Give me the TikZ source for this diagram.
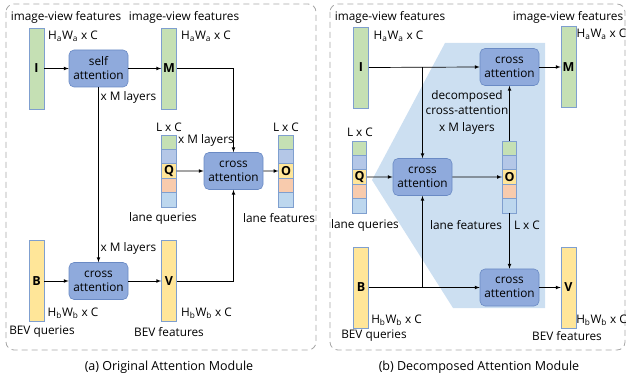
\documentclass[tikz,border=0pt]{standalone}
\usepackage{fontspec}
\setmainfont{Open Sans}
\usetikzlibrary{calc}
\definecolor{barEdge}{HTML}{7F9FCF}
\definecolor{imgGreen}{HTML}{C5E0B4}
\definecolor{bevYellow}{HTML}{FFE699}
\definecolor{attnFill}{HTML}{8FAADC}
\definecolor{attnEdge}{HTML}{6A8AC4}
\definecolor{segBlue}{HTML}{B4C7E7}
\definecolor{segOrange}{HTML}{F8CBAD}
\definecolor{segSky}{HTML}{BDD7EE}
\definecolor{shadeBlue}{HTML}{CCDFF1}
\definecolor{frameGray}{HTML}{A6A6A6}
\tikzset{
  every picture/.append style={font=\fontsize{11.8}{14}\selectfont},
  featbar/.style={draw=barEdge, line width=0.6pt, minimum width=15pt, minimum height=81pt, inner sep=0pt, font=\fontsize{12.5}{14}\selectfont\bfseries},
  attn/.style={draw=attnEdge, fill=attnFill, rounded corners=5pt, minimum width=59pt, minimum height=37pt, align=center, inner sep=0pt, line width=0.6pt},
  seg/.style={draw=barEdge, line width=0.6pt, minimum width=14.5pt, minimum height=14.4pt, inner sep=0pt},
  lbl/.style={inner sep=0pt},
  flow/.style={-latex, line width=0.7pt},
  frame/.style={draw=frameGray, dashed, dash pattern=on 6pt off 4pt, line width=0.8pt, rounded corners=8pt},
}

\begin{document}
\begin{tikzpicture}[x=1pt,y=-1pt]
    \useasboundingbox (0,0) rectangle (626,379);
    % frames and the shaded decomposed part
    \draw[frame] (6,4) rectangle (316,350);
    \draw[frame] (330,4) rectangle (625,350);
    \fill[shadeBlue] (372,180) -- (445,43) -- (545,43) -- (545,308) -- (453,308) -- cycle;

    % (a) original attention module
    \node[featbar, fill=imgGreen] (ia) at (36.5,68.5) {I};
    \node[featbar, fill=imgGreen] (ma) at (169,68.5) {M};
    \node[featbar, fill=bevYellow] (ba) at (36.5,281) {B};
    \node[featbar, fill=bevYellow] (va) at (169,281) {V};
    \node[attn] (sa) at (98.5,68.5) {self\\attention};
    \node[attn] (caa) at (233.5,171) {cross\\attention};
    \node[attn] (cab) at (98.5,281) {cross\\attention};
    \foreach \c [count=\k] in {imgGreen,segBlue,bevYellow,segOrange,segSky} {
      \node[seg, fill=\c] (qa\k) at (169,{135+14.4*\k-7.2}) {};
      \node[seg, fill=\c] (oa\k) at (286,{135+14.4*\k-7.2}) {};
    }
    \node[lbl, font=\fontsize{12.5}{14}\selectfont\bfseries] at (qa3) {Q};
    \node[lbl, font=\fontsize{12.5}{14}\selectfont\bfseries] at (oa3) {O};

    \draw[flow] (ia.east) -- (sa.west);
    \draw[flow] (sa.east) -- (ma.west);
    \draw[flow] (ma.east) -| (caa.north);
    \draw[flow] (sa.south) -- (cab.north);
    \draw[flow] (qa3.east) -- (caa.west);
    \draw[flow] (caa.east) -- (oa3.west);
    \draw[flow] (ba.east) -- (cab.west);
    \draw[flow] (cab.east) -- (va.west);
    \draw[flow] (va.east) -| (caa.south);

    \node[lbl] at (66,17) {image-view features};
    \node[lbl] at (184,17) {image-view features};
    \node[lbl] at (73,36) {H\textsubscript{a}W\textsubscript{a} x C};
    \node[lbl] at (206,36) {H\textsubscript{a}W\textsubscript{a} x C};
    \node[lbl] at (128.5,97) {x M layers};
    \node[lbl] at (206,140) {x M layers};
    \node[lbl] at (128.5,248) {x M layers};
    \node[lbl] at (169,127) {L x C};
    \node[lbl] at (286,127) {L x C};
    \node[lbl] at (163,218) {lane queries};
    \node[lbl] at (279,218) {lane features};
    \node[lbl] at (73,313) {H\textsubscript{b}W\textsubscript{b} x C};
    \node[lbl] at (206.5,313) {H\textsubscript{b}W\textsubscript{b} x C};
    \node[lbl] at (42,332) {BEV queries};
    \node[lbl] at (169,332) {BEV features};
    \node[lbl, font=\fontsize{12.5}{14}\selectfont] at (169,367) {(a) Original Attention Module};

    % (b) decomposed attention module
    \node[featbar, fill=imgGreen] (ib) at (361,67.5) {I};
    \node[featbar, fill=imgGreen] (mb) at (568.5,67) {M};
    \node[featbar, fill=bevYellow] (bb) at (361,287.5) {B};
    \node[featbar, fill=bevYellow] (vb) at (568.5,287.5) {V};
    \node[attn] (cb1) at (509.5,67) {cross\\attention};
    \node[attn] (cb2) at (422.5,177) {cross\\attention};
    \node[attn] (cb3) at (509.5,287.5) {cross\\attention};
    \foreach \c [count=\k] in {imgGreen,segBlue,bevYellow,segOrange,segSky} {
      \node[seg, fill=\c] (qb\k) at (359.5,{141+14.4*\k-7.2}) {};
      \node[seg, fill=\c] (ob\k) at (509.5,{141+14.4*\k-7.2}) {};
    }
    \node[lbl, font=\fontsize{12.5}{14}\selectfont\bfseries] at (qb3) {Q};
    \node[lbl, font=\fontsize{12.5}{14}\selectfont\bfseries] at (ob3) {O};

    \draw[flow] (ib.east) -- (cb1.west);
    \draw[flow] (ib.east -| cb2.north) -- (cb2.north);
    \draw[flow] (cb1.east) -- (mb.west);
    \draw[flow] (qb3.east) -- (cb2.west);
    \draw[flow] (cb2.east) -- (ob3.west);
    \draw[flow] (ob1.north) -- (cb1.south);
    \draw[flow] (ob5.south) -- (cb3.north);
    \draw[flow] (bb.east) -- (cb3.west);
    \draw[flow] (bb.east -| cb2.south) -- (cb2.south);
    \draw[flow] (cb3.east) -- (vb.west);

    \node[lbl] at (390,17) {image-view features};
    \node[lbl] at (568,17) {image-view features};
    \node[lbl] at (398.5,36) {H\textsubscript{a}W\textsubscript{a} x C};
    \node[lbl] at (601.5,34) {H\textsubscript{a}W\textsubscript{a} x C};
    \node[lbl] at (360,132) {L x C};
    \node[lbl] at (467,96) {decomposed};
    \node[lbl] at (467,110) {cross-attention};
    \node[lbl] at (467,128) {x M layers};
    \node[lbl] at (365,225) {lane queries};
    \node[lbl] at (466,225) {lane features};
    \node[lbl] at (527,225) {L x C};
    \node[lbl] at (396.5,320) {H\textsubscript{b}W\textsubscript{b} x C};
    \node[lbl] at (601.5,320) {H\textsubscript{b}W\textsubscript{b} x C};
    \node[lbl] at (374,336) {BEV queries};
    \node[lbl] at (567,336) {BEV features};
    \node[lbl, font=\fontsize{12.5}{14}\selectfont] at (479,367) {(b) Decomposed Attention Module};
  \end{tikzpicture}
\end{document}
